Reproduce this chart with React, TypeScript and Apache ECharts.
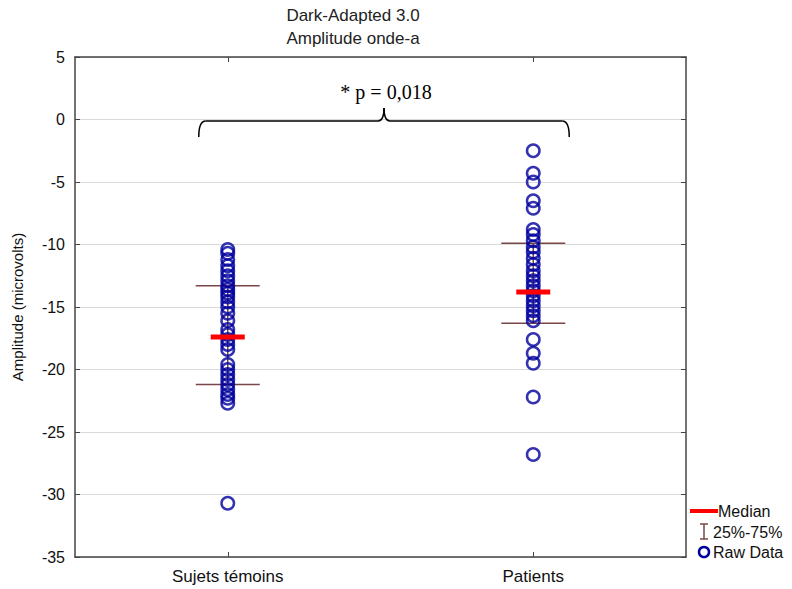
import React, { useEffect, useRef } from "react";
import * as echarts from "echarts";

const categories = ["Sujets témoins", "Patients"];
const controls = [
  -10.4, -10.7, -11.2, -11.7, -12.1, -12.5, -12.9, -13.3, -13.6, -13.9, -14.2, -14.6,
  -15.0, -15.5, -16.1, -16.8, -17.2, -17.6, -18.0, -18.4, -19.6, -20.0, -20.4, -20.8,
  -21.2, -21.6, -22.0, -22.3, -22.7, -30.7,
];
const patients = [
  -2.5, -4.3, -5.0, -6.5, -7.1, -8.8, -9.2, -9.7, -10.2, -10.6, -11.1, -11.6, -12.1,
  -12.5, -12.9, -13.3, -13.7, -14.1, -14.5, -14.9, -15.3, -15.7, -16.1, -17.6, -18.7,
  -19.5, -22.2, -26.8,
];
const medians = [-17.4, -13.8];
const q25 = [-21.2, -16.3];
const q75 = [-13.3, -9.9];
const yTicks = { min: -35, max: 5, interval: 5 };
const titleLines = ["Dark-Adapted 3.0", "Amplitude onde-a"];
const pText = "* p = 0,018";
const legendLabels = ["Median", "25%-75%", "Raw Data"];

const FONT = "'Liberation Sans', Arial, sans-serif";
const BLUE = "#00009e";
const BROWN = "#7a4646";

export default function App() {
  const ref = useRef<HTMLDivElement>(null);
  useEffect(() => {
    if (!ref.current) return;
    const chart = echarts.init(ref.current, undefined, { renderer: "svg" });
    const grid = { left: 75, right: 106, top: 57, bottom: 32 };
    const axisLine = { show: true, onZero: false, lineStyle: { color: "#444", width: 1.5 } };
    const tick = { show: true, inside: true, length: 5, lineStyle: { color: "#444" } };
    const option: any = {
      animation: false,
      backgroundColor: "#fff",
      grid,
      xAxis: [
        {
          type: "category",
          data: categories,
          boundaryGap: true,
          axisLine,
          axisTick: { ...tick, alignWithLabel: true },
          axisLabel: { color: "#111", fontSize: 17, fontFamily: FONT, margin: 11 },
          splitLine: { show: false },
        },
        {
          type: "category",
          data: categories,
          position: "top",
          boundaryGap: true,
          axisLine,
          axisTick: { ...tick, alignWithLabel: true },
          axisLabel: { show: false },
        },
      ],
      yAxis: [
        {
          type: "value",
          min: yTicks.min,
          max: yTicks.max,
          interval: yTicks.interval,
          name: "Amplitude (microvolts)",
          nameLocation: "middle",
          nameGap: 50,
          nameTextStyle: { color: "#111", fontSize: 15, fontFamily: FONT },
          axisLine,
          axisTick: tick,
          axisLabel: { color: "#111", fontSize: 16, fontFamily: FONT, margin: 10 },
          splitLine: { show: true, lineStyle: { color: "#d9d9d9", width: 1 } },
        },
        {
          type: "value",
          position: "right",
          min: yTicks.min,
          max: yTicks.max,
          interval: yTicks.interval,
          axisLine,
          axisTick: tick,
          axisLabel: { show: false },
          splitLine: { show: false },
        },
      ],
      series: [
        {
          type: "custom",
          z: 1,
          data: categories.map((_, i) => [i, q25[i], q75[i]]),
          renderItem: (params: any, api: any) => {
            const x = api.coord([api.value(0), 0])[0];
            const yLo = api.coord([api.value(0), api.value(1)])[1];
            const yHi = api.coord([api.value(0), api.value(2)])[1];
            const hw = 32;
            const st = { stroke: BROWN, lineWidth: 1.5 };
            return {
              type: "group",
              children: [
                { type: "line", shape: { x1: x, y1: yLo, x2: x, y2: yHi }, style: st },
                { type: "line", shape: { x1: x - hw, y1: yLo, x2: x + hw, y2: yLo }, style: st },
                { type: "line", shape: { x1: x - hw, y1: yHi, x2: x + hw, y2: yHi }, style: st },
              ],
            };
          },
        },
        {
          type: "scatter",
          z: 2,
          symbol: "circle",
          symbolSize: 12.5,
          itemStyle: { color: "rgba(0,0,0,0)", borderColor: BLUE, borderWidth: 2.5 },
          data: [
            ...controls.map((v) => [0, v]),
            ...patients.map((v) => [1, v]),
          ],
        },
        {
          type: "custom",
          z: 3,
          data: categories.map((_, i) => [i, medians[i]]),
          renderItem: (params: any, api: any) => {
            const p = api.coord([api.value(0), api.value(1)]);
            return {
              type: "line",
              shape: { x1: p[0] - 17, y1: p[1], x2: p[0] + 17, y2: p[1] },
              style: { stroke: "#ff0000", lineWidth: 5 },
            };
          },
        },
      ],
    };
    chart.setOption(option);

    const c0 = chart.convertToPixel({ xAxisIndex: 0, yAxisIndex: 0 }, [0, 0]);
    const c1 = chart.convertToPixel({ xAxisIndex: 0, yAxisIndex: 0 }, [1, 0]);
    const xL = c0[0] - 29;
    const xR = c1[0] + 36;
    const xm = (xL + xR) / 2;
    const yb = c0[1] + 1.5;
    const bs = { stroke: "#000", lineWidth: 1.5, fill: "none" };
    const legendX = 686;
    const lt = (text: string, y: number) => ({
      type: "text",
      x: legendX + 27,
      y,
      style: { text, fontSize: 16, fontFamily: FONT, fill: "#111", verticalAlign: "middle" },
    });
    chart.setOption({
      graphic: [
        {
          type: "text",
          x: 353,
          y: 15,
          style: { text: titleLines[0], align: "center", verticalAlign: "middle", fontSize: 17, fontFamily: FONT, fill: "#222" },
        },
        {
          type: "text",
          x: 353,
          y: 38,
          style: { text: titleLines[1], align: "center", verticalAlign: "middle", fontSize: 17, fontFamily: FONT, fill: "#222" },
        },
        { type: "bezierCurve", shape: { x1: xL, y1: yb + 16, x2: xL + 7, y2: yb, cpx1: xL, cpy1: yb }, style: bs },
        { type: "line", shape: { x1: xL + 7, y1: yb, x2: xm - 6, y2: yb }, style: bs },
        { type: "bezierCurve", shape: { x1: xm - 6, y1: yb, x2: xm, y2: yb - 13, cpx1: xm, cpy1: yb }, style: bs },
        { type: "bezierCurve", shape: { x1: xm + 6, y1: yb, x2: xm, y2: yb - 13, cpx1: xm, cpy1: yb }, style: bs },
        { type: "line", shape: { x1: xm + 6, y1: yb, x2: xR - 7, y2: yb }, style: bs },
        { type: "bezierCurve", shape: { x1: xR, y1: yb + 16, x2: xR - 7, y2: yb, cpx1: xR, cpy1: yb }, style: bs },
        {
          type: "text",
          x: xm + 2,
          y: 92,
          style: {
            text: pText,
            fontSize: 20,
            fontFamily: "'Liberation Serif', 'Times New Roman', serif",
            fill: "#000",
            align: "center",
            verticalAlign: "middle",
          },
        },
        { type: "line", shape: { x1: legendX + 4, y1: 511, x2: legendX + 32, y2: 511 }, style: { stroke: "#ff0000", lineWidth: 4 } },
        { ...lt(legendLabels[0], 511), x: legendX + 32 },
        { type: "line", shape: { x1: legendX + 18, y1: 524, x2: legendX + 18, y2: 539 }, style: { stroke: BROWN, lineWidth: 1.5 } },
        { type: "line", shape: { x1: legendX + 14, y1: 524, x2: legendX + 22, y2: 524 }, style: { stroke: BROWN, lineWidth: 1.5 } },
        { type: "line", shape: { x1: legendX + 14, y1: 539, x2: legendX + 22, y2: 539 }, style: { stroke: BROWN, lineWidth: 1.5 } },
        lt(legendLabels[1], 532),
        { type: "circle", shape: { cx: legendX + 18, cy: 552, r: 5 }, style: { stroke: BLUE, lineWidth: 2.5, fill: "none" } },
        lt(legendLabels[2], 552),
      ],
    });
    return () => chart.dispose();
  }, []);
  return <div ref={ref} style={{ width: 792, height: 589, position: "absolute", left: 0, top: 0 }} />;
}
